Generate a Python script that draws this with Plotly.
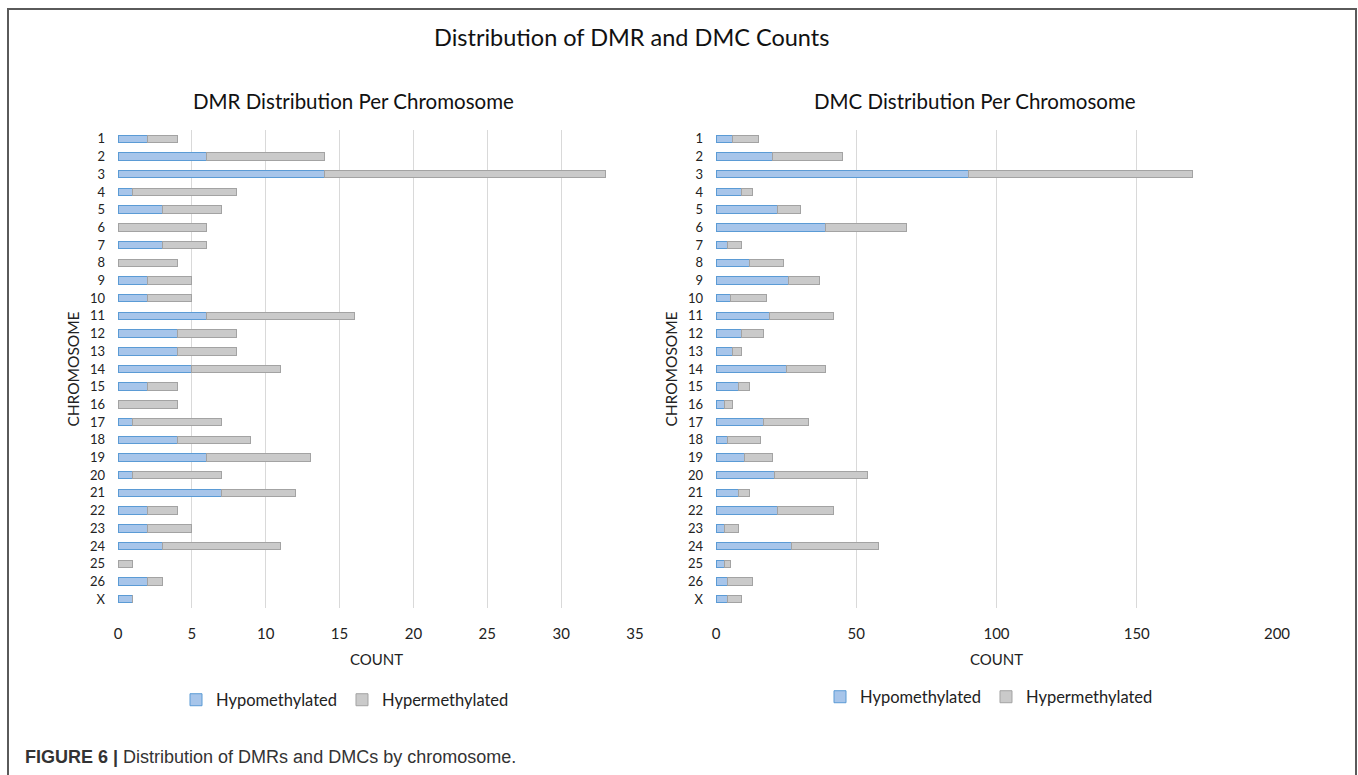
import plotly.graph_objects as go

# Chromosome labels, top to bottom
chromosomes = [str(i) for i in range(1, 27)] + ["X"]

# DMR counts per chromosome
dmr_hypo = [2, 6, 14, 1, 3, 0, 3, 0, 2, 2, 6, 4, 4, 5, 2, 0, 1, 4, 6, 1, 7, 2, 2, 3, 0, 2, 1]
dmr_hyper = [2, 8, 19, 7, 4, 6, 3, 4, 3, 3, 10, 4, 4, 6, 2, 4, 6, 5, 7, 6, 5, 2, 3, 8, 1, 1, 0]

# DMC counts per chromosome
dmc_hypo = [6, 20, 90, 9, 22, 39, 4, 12, 26, 5, 19, 9, 6, 25, 8, 3, 17, 4, 10, 21, 8, 22, 3, 27, 3, 4, 4]
dmc_hyper = [9, 25, 80, 4, 8, 29, 5, 12, 11, 13, 23, 8, 3, 14, 4, 3, 16, 12, 10, 33, 4, 20, 5, 31, 2, 9, 5]

dmr_ticks = [0, 5, 10, 15, 20, 25, 30, 35]
dmc_ticks = [0, 50, 100, 150, 200]

W, H = 1358, 775
FONT = "Lato"
BLUE_FILL, BLUE_LINE = "#A7C5EA", "#5B9BD5"
GRAY_FILL, GRAY_LINE = "#CACACA", "#A3A3A3"


def px(x):
    return x / W


def py(y):
    return 1 - y / H


fig = go.Figure()

panels = [
    ("x", "y", dmr_hypo, dmr_hyper, "legend"),
    ("x2", "y2", dmc_hypo, dmc_hyper, "legend2"),
]
for xa, ya, hypo, hyper, leg in panels:
    fig.add_trace(go.Bar(
        y=chromosomes, x=hypo, orientation="h", name="Hypomethylated",
        marker=dict(color=BLUE_FILL, line=dict(color=BLUE_LINE, width=1)),
        xaxis=xa, yaxis=ya, legend=leg,
    ))
    fig.add_trace(go.Bar(
        y=chromosomes, x=hyper, orientation="h", name="Hypermethylated",
        marker=dict(color=GRAY_FILL, line=dict(color=GRAY_LINE, width=1)),
        xaxis=xa, yaxis=ya, legend=leg,
    ))

y_dom = [py(608), py(130)]
xaxis_common = dict(
    showgrid=True, gridcolor="#D9D9D9", gridwidth=1, zeroline=False,
    showline=False, ticks="", ticklabelstandoff=15,
    tickfont=dict(family=FONT, size=15, color="#222"),
    title=dict(text="COUNT", font=dict(family=FONT, size=15, color="#222"), standoff=13),
)
yaxis_common = dict(
    type="category", categoryorder="array", categoryarray=chromosomes,
    autorange="reversed", showgrid=False, zeroline=False, showline=False,
    ticks="", ticklabelstandoff=12,
    tickfont=dict(family=FONT, size=13, color="#222"),
    title=dict(text="CHROMOSOME", font=dict(family=FONT, size=15.5, color="#222"), standoff=6),
)
legend_common = dict(
    orientation="h", yanchor="middle", xanchor="left",
    font=dict(family=FONT, size=16.5, color="#222"), itemwidth=30,
    bgcolor="rgba(0,0,0,0)", traceorder="normal",
)

fig.update_layout(
    width=W, height=H,
    margin=dict(l=0, r=0, t=0, b=0, autoexpand=False),
    paper_bgcolor="white", plot_bgcolor="white",
    barmode="stack", bargap=0.58,
    font=dict(family=FONT, color="#222"),
    xaxis=dict(domain=[px(118), px(635)], range=[0, 35], tickvals=dmr_ticks,
               anchor="y", automargin=False, **xaxis_common),
    yaxis=dict(domain=y_dom, anchor="x", automargin=False, **yaxis_common),
    xaxis2=dict(domain=[px(716), px(1277)], range=[0, 200], tickvals=dmc_ticks,
                anchor="y2", automargin=False, **xaxis_common),
    yaxis2=dict(domain=y_dom, anchor="x2", automargin=False, **yaxis_common),
    legend=dict(x=px(176), y=py(700), **legend_common),
    legend2=dict(x=px(820), y=py(697), **legend_common),
    shapes=[
        dict(type="path", xref="paper", yref="paper",
             path=f"M {px(8)},{py(790)} L {px(8)},{py(9)} L {px(1356)},{py(9)} L {px(1356)},{py(790)}",
             line=dict(color="#5A5A5A", width=2)),
    ],
    annotations=[
        dict(text="Distribution of DMR and DMC Counts", x=px(631), y=py(37),
             xref="paper", yref="paper", xanchor="center", yanchor="middle",
             showarrow=False, font=dict(family=FONT, size=23.5, color="#111")),
        dict(text="DMR Distribution Per Chromosome", x=px(353), y=py(101),
             xref="paper", yref="paper", xanchor="center", yanchor="middle",
             showarrow=False, font=dict(family=FONT, size=20.5, color="#111")),
        dict(text="DMC Distribution Per Chromosome", x=px(975), y=py(101),
             xref="paper", yref="paper", xanchor="center", yanchor="middle",
             showarrow=False, font=dict(family=FONT, size=20.5, color="#111")),
        dict(text="<b>FIGURE 6 |</b> Distribution of DMRs and DMCs by chromosome.",
             x=px(23), y=py(757), xref="paper", yref="paper",
             xanchor="left", yanchor="middle", showarrow=False,
             font=dict(family="Liberation Sans", size=18, color="#333")),
    ],
)

fig.write_html(
    "out.html",
    post_script="document.documentElement.style.overflow='hidden';"
                "document.body.style.margin='0';document.body.style.overflow='hidden';",
)
